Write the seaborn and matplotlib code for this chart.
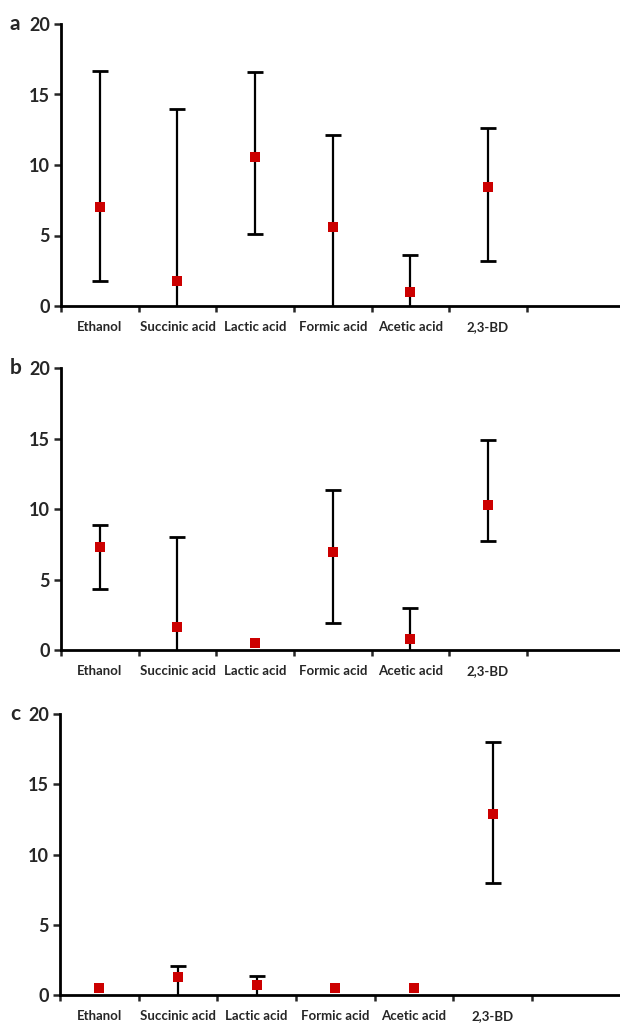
import numpy as np
import pandas as pd
import matplotlib
matplotlib.use("Agg")
import matplotlib.pyplot as plt
import seaborn as sns

sns.set_theme(style="white")
plt.rcParams['font.family'] = ['Lato', 'DejaVu Sans']

categories = ["Ethanol", "Succinic acid", "Lactic acid", "Formic acid", "Acetic acid", "2,3-BD"]

# Panel a
a_mean = [7.0, 1.8, 10.55, 5.6, 0.97, 8.42]
a_low = [1.8, -10.4, 5.1, -0.9, -1.7, 3.2]
a_high = [16.7, 14.0, 16.6, 12.1, 3.65, 12.62]

# Panel b
b_mean = [7.3, 1.6, 0.52, 6.95, 0.8, 10.3]
b_low = [4.35, -4.8, 0.52, 1.9, -1.4, 7.75]
b_high = [8.85, 8.0, 0.52, 11.35, 2.95, 14.9]

# Panel c
c_mean = [0.5, 1.25, 0.67, 0.5, 0.5, 12.9]
c_low = [0.5, -0.2, -0.2, 0.5, 0.5, 8.0]
c_high = [0.5, 2.02, 1.36, 0.5, 0.5, 18.0]

panels = [
    ("a", a_mean, a_low, a_high, [61/620, 1-306/1024, 1-61/620, (306-24)/1024], 6.7),
    ("b", b_mean, b_low, b_high, [61/620, 1-650/1024, 1-61/620, (650-368.3)/1024], 6.7),
    ("c", c_mean, c_low, c_high, [60/620, 1-994.7/1024, 1-60/620, (994.7-714.3)/1024], 6.62),
]

fig = plt.figure(figsize=(6.2, 10.24), dpi=100)

for letter, mean, low, high, rect, xr in panels:
    ax = fig.add_axes(rect)
    df = pd.DataFrame({"cat": categories, "mean": mean, "low": low, "high": high})
    x = np.arange(len(categories))
    m = df["mean"].to_numpy()
    lo = df["low"].to_numpy()
    hi = df["high"].to_numpy()
    has = hi > lo
    yerr = np.vstack([m[has] - lo[has], hi[has] - m[has]])
    ax.errorbar(x[has], m[has], yerr=yerr, fmt="none", ecolor="black", elinewidth=1.6,
                capsize=6, capthick=2.0, zorder=2)
    sns.scatterplot(data=df, x="cat", y="mean", marker="s", color="#CC0000",
                    s=55, linewidth=0, ax=ax, zorder=3)
    ax.set_xlim(-0.5, xr)
    ax.set_ylim(0, 20)
    ax.set_yticks([0, 5, 10, 15, 20])
    ax.set_xticks(x)
    ax.set_xticklabels(categories, fontsize=9.5, fontweight="bold")
    ax.set_xticks(np.arange(-0.5, 6.0, 1.0), minor=True)
    ax.tick_params(axis="x", which="major", length=0, pad=11)
    ax.tick_params(axis="x", which="minor", length=4.5, width=1.8, direction="out", bottom=True)
    ax.tick_params(axis="y", which="major", length=5, width=1.8, direction="out", left=True,
                   labelsize=13, pad=3)
    for lab in ax.get_yticklabels():
        lab.set_fontweight("bold")
    ax.set_xlabel("")
    ax.set_ylabel("")
    for side in ["top", "right"]:
        ax.spines[side].set_visible(False)
    for side in ["left", "bottom"]:
        ax.spines[side].set_color("black")
        ax.spines[side].set_linewidth(2.0)
    ax.grid(False)
    top = rect[1] + rect[3]
    fig.text(10/620, top, letter, fontsize=15, fontweight="bold", ha="left", va="center")

fig.savefig("out.png", dpi=100)
